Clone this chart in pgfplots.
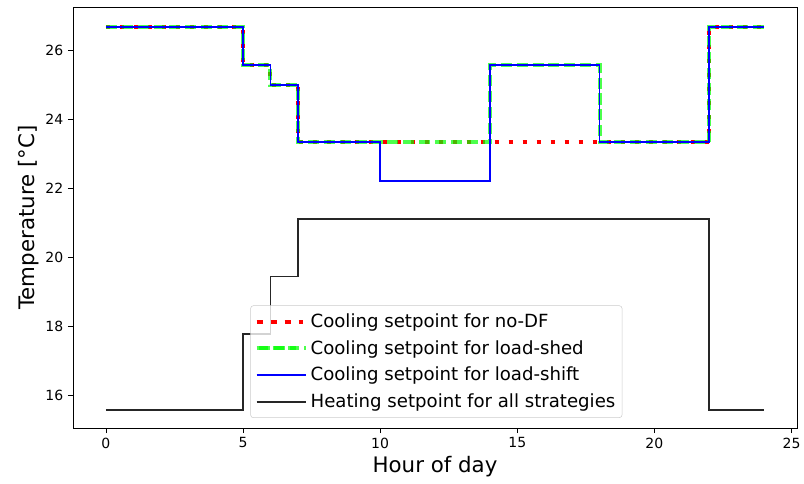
\documentclass[border=0pt]{standalone}
\usepackage{fontspec}
\setmainfont{DejaVu Sans}
\usepackage{pgfplots}
\pgfplotsset{compat=1.18}
\usetikzlibrary{calc}
\definecolor{shedgreen}{rgb}{0,1,0}

\begin{document}
\begin{tikzpicture}
\begin{axis}[
  scale only axis,
  width=543pt, height=315.75pt,
  xmin=-1.2, xmax=25.2, ymin=15.05, ymax=27.25,
  xtick={0,5,10,15,20,25}, ytick={16,18,20,22,24,26},
  tick align=outside, major tick length=3.75pt,
  xtick pos=left, ytick pos=left,
  tick style={black, line width=0.6pt},
  axis line style={line width=0.6pt},
  /pgf/number format/assume math mode=true,
  tick label style={font=\fontsize{10.5}{12}\selectfont},
  xlabel={Hour of day}, ylabel={Temperature [°C]},
  label style={font=\fontsize{16}{19}\selectfont},
  xlabel style={yshift=1pt},
  ylabel style={yshift=-2pt},
  legend cell align=left,
  legend style={at={(0.245,0.024)}, anchor=south west,
    font=\fontsize{13.6}{16}\selectfont,
    draw=black!20, fill=white, fill opacity=0.8, text opacity=1,
    rounded corners=2pt, inner xsep=3pt, inner ysep=4pt,
    row sep=4.2pt},
  legend image code/.code={\path (0cm,0cm) -- (1.3cm,0cm);
    \draw[#1] (0.05cm,0cm) -- (1.05cm,0cm);},
]
\addplot[const plot, red, line width=3pt, dash pattern=on 3pt off 7.5pt] coordinates {
  (0,26.67) (5,25.56) (6,25.00) (7,23.33) (22,26.67) (24,26.67)};
\addlegendentry{Cooling setpoint for no-DF}
\addplot[const plot, shedgreen, opacity=0.7, line width=3pt, dash pattern=on 8.3pt off 3.6pt] coordinates {
  (0,26.67) (5,25.56) (6,25.00) (7,23.33) (14,25.56) (18,23.33) (22,26.67) (24,26.67)};
\addlegendentry{Cooling setpoint for load-shed}
\addplot[const plot, blue, line width=1.4pt] coordinates {
  (0,26.67) (5,25.56) (6,25.00) (7,23.33) (10,22.22) (14,25.56) (18,23.33) (22,26.67) (24,26.67)};
\addlegendentry{Cooling setpoint for load-shift}
\addplot[const plot, black!85, line width=1.4pt] coordinates {
  (0,15.56) (5,17.78) (6,19.44) (7,21.11) (22,15.56) (24,15.56)};
\addlegendentry{Heating setpoint for all strategies}
\end{axis}
\pgfresetboundingbox
\useasboundingbox ($(current axis.south west)+(-54.75pt,-41.25pt)$) rectangle ($(current axis.north east)+(5.25pt,5.25pt)$);
\end{tikzpicture}
\end{document}
